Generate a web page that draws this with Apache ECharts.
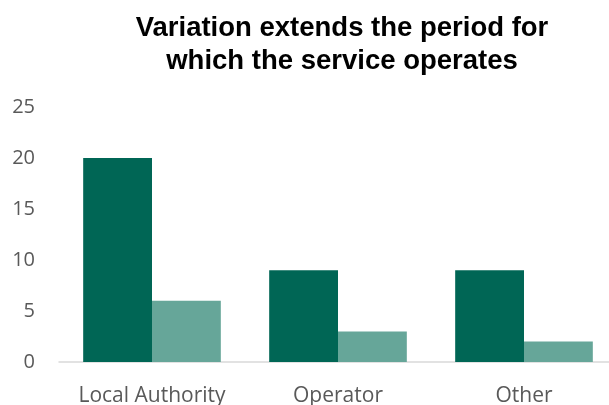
<!DOCTYPE html>
<html><head><meta charset="utf-8">
<script src="https://cdn.jsdelivr.net/npm/echarts@6/dist/echarts.min.js"></script>
<style>html,body{margin:0;padding:0;background:#fff;overflow:hidden}#c{width:620px;height:405px}</style>
</head><body><div id="c"></div>
<script>
const categories = ['Local Authority', 'Operator', 'Other'];
const seriesA = [20, 9, 9];
const seriesB = [6, 3, 2];
const yTicks = {min: 0, max: 25, interval: 5};
const titleText = 'Variation extends the period for\nwhich the service operates';

const chart = echarts.init(document.getElementById('c'));
chart.setOption({
  animation: false,
  title: {
    text: titleText,
    left: 337, top: 7, textAlign: 'center',
    textStyle: {fontFamily: 'Liberation Sans, Arial', fontWeight: 'bold', fontSize: 27.5, lineHeight: 33, color: '#000'}
  },
  grid: {left: 59, right: 3, top: 107, bottom: 43, containLabel: false, outerBoundsMode: 'none'},
  xAxis: {
    type: 'category', data: categories,
    axisLine: {lineStyle: {color: '#d9d9d9', width: 1.5}},
    axisTick: {show: false},
    axisLabel: {interval: 0, color: '#595959', fontSize: 21, fontFamily: 'Open Sans, Liberation Sans', margin: 24}
  },
  yAxis: {
    type: 'value', min: yTicks.min, max: yTicks.max, interval: yTicks.interval,
    axisLine: {show: false}, axisTick: {show: false}, splitLine: {show: false},
    axisLabel: {color: '#595959', fontSize: 20, fontFamily: 'Open Sans, Liberation Sans', margin: 24}
  },
  series: [
    {type: 'bar', data: seriesA, barGap: '0%', barCategoryGap: '26%', itemStyle: {color: '#006655'}},
    {type: 'bar', data: seriesB, barGap: '0%', barCategoryGap: '26%', itemStyle: {color: '#66a699'}}
  ]
});
</script></body></html>
